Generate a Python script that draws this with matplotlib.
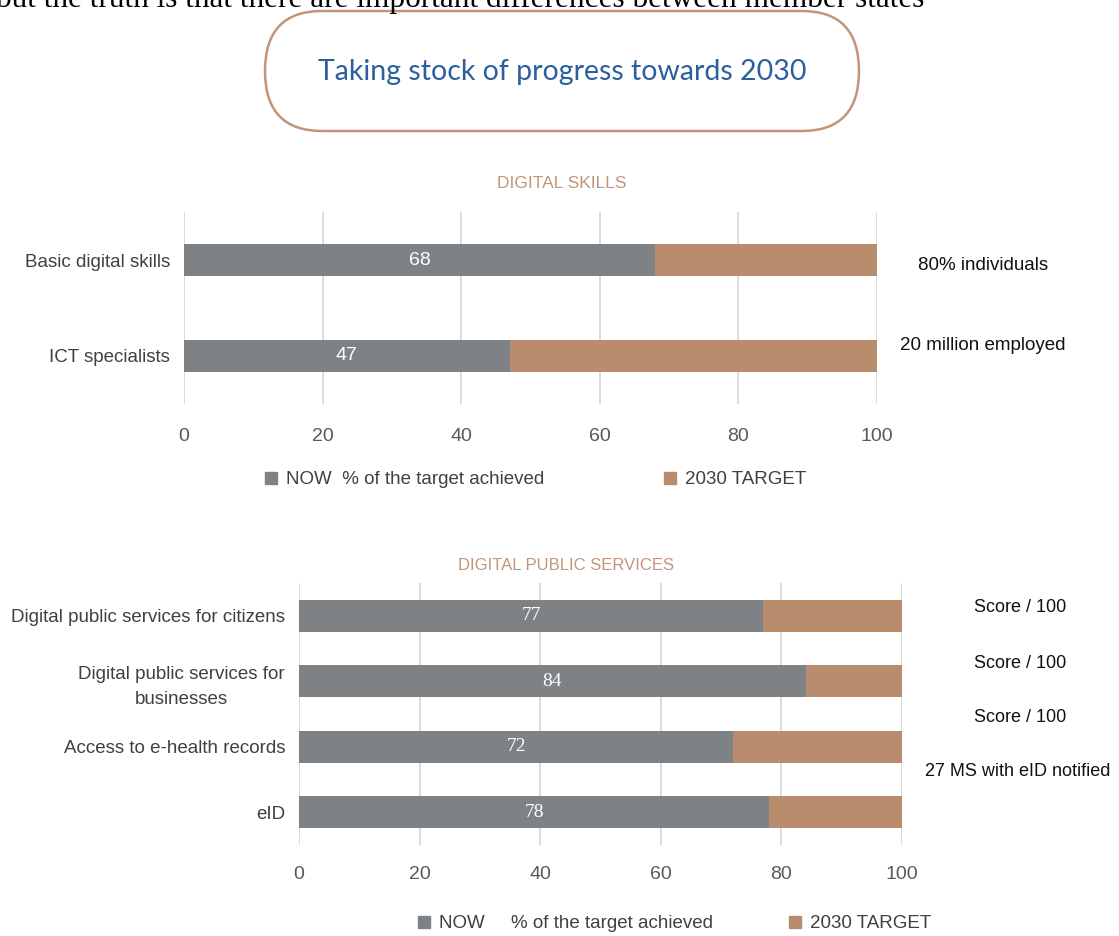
import matplotlib
matplotlib.use('Agg')
import matplotlib.pyplot as plt
from matplotlib.patches import FancyBboxPatch, Patch

plt.rcParams['font.family'] = ['Liberation Sans', 'DejaVu Sans']

GREY = '#7F8285'
BROWN = '#B98C6E'
BOX_EDGE = '#C0957A'
TITLE_BLUE = '#2B5F9E'
GRID = '#D9D9D9'
LABEL = '#404040'

# ===== data =====
skills_labels = ['Basic digital skills', 'ICT specialists']
skills_now = [68, 47]
skills_notes = ['80% individuals', '20 million employed']

dps_labels = ['Digital public services for citizens',
              'Digital public services for\nbusinesses',
              'Access to e-health records',
              'eID']
dps_now = [77, 84, 72, 78]
dps_notes = ['Score / 100', 'Score / 100', 'Score / 100', '27 MS with eID notified']

TARGET = 100

W, H = 1119, 936
fig = plt.figure(figsize=(W / 100, H / 100), dpi=100)

# full-figure layer in pixel units for the header and free text
bg = fig.add_axes([0, 0, 1, 1], zorder=0)
bg.set_xlim(0, W)
bg.set_ylim(H, 0)
bg.axis('off')

bg.text(-4, 7, 'but the truth is that there are important differences between member states',
        family='Liberation Serif', fontsize=22.5, va='baseline', ha='left', color='black')

box = FancyBboxPatch((265, 11), 594, 120, boxstyle='round,pad=0,rounding_size=57',
                     mutation_aspect=60 / 57, facecolor='white',
                     edgecolor=BOX_EDGE, linewidth=1.8)
bg.add_patch(box)
bg.text(562, 72, 'Taking stock of progress towards 2030', family='Lato',
        fontsize=20.5, color=TITLE_BLUE, ha='center', va='center')


def draw_panel(ax, labels, now, value_font, bar_h, pad):
    ypos = list(range(len(labels)))
    rest = [TARGET - v for v in now]
    ax.barh(ypos, now, height=bar_h, color=GREY, zorder=3)
    ax.barh(ypos, rest, left=now, height=bar_h, color=BROWN, zorder=3)
    for y, v in zip(ypos, now):
        ax.text(v / 2, y, str(v), ha='center', va='center', color='white',
                fontsize=14, family=value_font, zorder=4)
    ax.set_xlim(0, TARGET)
    ax.set_ylim(len(labels) - 0.5, -0.5)
    ax.set_xticks(range(0, 101, 20))
    ax.set_yticks(ypos)
    ax.set_yticklabels(labels, fontsize=13.5, color=LABEL, linespacing=1.6)
    ax.tick_params(axis='x', length=0, pad=pad, labelsize=14, labelcolor='#595959')
    ax.tick_params(axis='y', length=0, pad=10)
    ax.xaxis.grid(True, color=GRID, linewidth=1.3, zorder=0)
    ax.patch.set_alpha(0)
    for s in ax.spines.values():
        s.set_visible(False)


def legend_item(color, label, x, y):
    fig.legend(handles=[Patch(color=color, label=label)], loc='center left',
               bbox_to_anchor=(x / W, 1 - y / H), frameon=False, fontsize=13.5,
               labelcolor=LABEL, handlelength=0.65, handleheight=0.65,
               handletextpad=0.45, borderaxespad=0, borderpad=0)


# ===== DIGITAL SKILLS =====
ax1 = fig.add_axes([184 / W, 1 - 404 / H, (877 - 184) / W, (404 - 212) / H], zorder=1)
draw_panel(ax1, skills_labels, skills_now, ['Liberation Sans'], 0.34, 17)
bg.text(562, 183, 'DIGITAL SKILLS', color=BOX_EDGE, fontsize=12.5, ha='center', va='center')
for (x, y), note in zip([(983, 265), (983, 345)], skills_notes):
    bg.text(x, y, note, fontsize=13.5, ha='center', va='center', color='#111111')

legend_item(GREY, 'NOW  % of the target achieved', 265, 480)
legend_item(BROWN, '2030 TARGET', 664, 480)

# ===== DIGITAL PUBLIC SERVICES =====
ax2 = fig.add_axes([299 / W, 1 - 845 / H, (902 - 299) / W, (845 - 583) / H], zorder=1)
draw_panel(ax2, dps_labels, dps_now, ['Liberation Serif'], 0.49, 15)
for t in ax2.get_yticklabels():
    t.set_multialignment('center')
bg.text(566, 565, 'DIGITAL PUBLIC SERVICES', color=BOX_EDGE, fontsize=12,
        ha='center', va='center')
for (x, y), note in zip([(1020, 608), (1020, 663), (1020, 718), (1018, 772)], dps_notes):
    bg.text(x, y, note, fontsize=13, ha='center', va='center', color='#111111')

legend_item(GREY, 'NOW     % of the target achieved', 418, 924)
legend_item(BROWN, '2030 TARGET', 789, 924)

fig.savefig('out.png', dpi=100)
